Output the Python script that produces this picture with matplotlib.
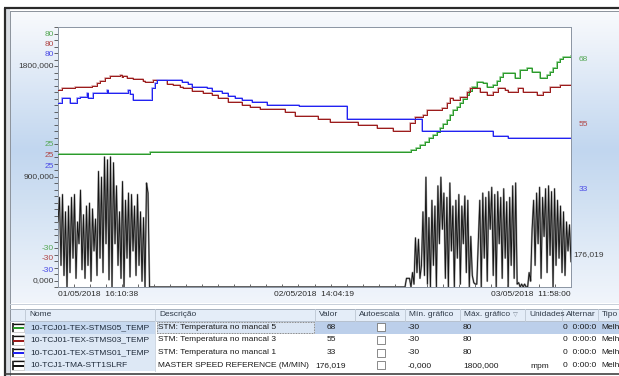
import numpy as np
import matplotlib
matplotlib.use("Agg")
import matplotlib.pyplot as plt
from matplotlib.patches import Rectangle
from matplotlib.colors import to_rgb
import matplotlib.transforms as mtransforms

plt.rcParams['font.family'] = ['Liberation Sans', 'DejaVu Sans']
plt.rcParams['font.size'] = 6

# ------------------------------------------------------------------ data
# time axis: hours since 01/05/2018 16:10:38 (end = 03/05/2018 11:58:00)
T_END = 43.789
time_labels = ["01/05/2018  16:10:38", "02/05/2018  14:04:19", "03/05/2018  11:58:00"]

# STMS05 (green) temperature
green_t = [0, 7.85, 30.13, 30.55, 30.90, 31.33, 31.70, 32.04, 32.33, 32.61, 32.90, 33.18, 33.46,
           33.74, 34.02, 34.31, 34.60, 34.89, 35.10, 35.31, 35.74, 36.30, 36.59, 37.16, 37.45,
           37.73, 38.01, 39.01, 39.44, 40.00, 40.43, 41.14, 41.71, 42.00, 42.28, 42.56, 42.85,
           43.13, 43.79]
green_v = [26.3, 27.1, 28.0, 28.9, 30.1, 31.5, 32.9, 34.3, 35.7, 37.1, 38.9, 40.7, 42.8,
           44.9, 46.3, 47.7, 49.4, 51.2, 53.0, 54.7, 56.6, 56.2, 54.7, 55.5, 57.2,
           59.0, 60.4, 58.6, 61.8, 62.5, 61.1, 58.6, 59.7, 61.0, 62.5, 65.3, 66.4,
           67.4, 67.6]

# STMS03 (red) temperature
red_t = [0, 0.32, 0.74, 1.45, 2.88, 3.30, 3.59, 4.01, 4.44, 5.29, 5.44, 5.57, 5.86, 6.43, 7.28,
         7.43, 8.13, 8.56, 9.28, 9.84, 10.41, 10.70, 11.41, 12.40, 13.12, 13.68, 14.54, 15.68,
         16.39, 17.24, 19.38, 20.23, 22.22, 23.22, 24.35, 25.63, 27.20, 28.62, 29.90, 30.05,
         30.47, 31.18, 31.47, 32.75, 33.18, 33.46, 33.74, 34.31, 34.89, 35.17, 35.45, 36.02,
         36.59, 37.16, 37.58, 38.16, 38.44, 39.29, 39.72, 40.86, 41.43, 42.00, 42.85, 43.79]
red_v = [53.3, 54.1, 54.3, 54.6, 55.2, 56.3, 57.3, 58.3, 59.4, 59.7, 58.7, 59.4, 58.3, 57.9, 57.3,
         56.6, 57.6, 57.5, 55.9, 55.5, 54.6, 54.2, 52.9, 52.0, 51.2, 50.1, 48.4, 47.1,
         46.3, 45.2, 43.9, 42.3, 41.1, 39.9, 39.7, 38.5, 37.1, 36.1, 36.0, 39.3,
         42.1, 42.8, 44.9, 45.6, 47.7, 49.8, 49.1, 50.5, 52.6, 54.3, 54.1, 52.6,
         51.2, 52.6, 54.1, 53.3, 52.6, 54.1, 52.6, 51.2, 52.6, 54.7, 55.5, 55.5]

# STMS01 (blue) temperature
blue_t = [0, 0.32, 1.02, 1.60, 1.88, 2.45, 2.59, 3.01, 4.16, 4.29, 6.00, 6.15, 6.43, 8.00, 8.28,
          8.43, 10.56, 11.12, 11.41, 12.69, 13.12, 13.97, 14.54, 15.11, 15.68, 16.54, 17.82,
          20.60, 24.64, 31.05, 37.16, 38.44, 43.79]
blue_v = [47.7, 50.1, 47.7, 50.1, 50.5, 52.0, 49.8, 52.0, 53.3, 52.0, 53.3, 51.5, 49.1, 54.1, 56.2,
          57.4, 56.6, 55.8, 54.5, 54.1, 53.1, 52.0, 50.9, 49.8, 49.1, 48.4, 47.0,
          46.7, 41.1, 36.0, 34.0, 32.9, 32.9]

# master speed reference (black), two production bursts, zero in between
speed_burst1_span = (0.0, 7.94)
speed_burst1 = [450, 620, 150, 640, 80, 520, 0, 560, 100, 620,
                200, 640, 60, 450, 300, 670, 120, 500, 60, 560,
                150, 580, 40, 540, 250, 470, 80, 800, 200, 760,
                100, 900, 300, 880, 50, 900, 0, 860, 300, 700,
                150, 520, 60, 730, 0, 600, 200, 650, 70, 640,
                250, 560, 80, 640, 150, 520, 40, 480, 0, 720,
                650, 0, 0]
speed_burst2_span = (29.62, 43.789)
speed_burst2 = [0, 60, 60, 60, 0, 100, 20, 340, 100, 330,
                60, 150, 520, 80, 760, 20, 480, 0, 600, 150,
                560, 0, 700, 300, 760, 400, 650, 60, 620, 0,
                720, 250, 560, 0, 600, 200, 640, 20, 560, 300,
                630, 100, 600, 0, 350, 80, 30, 20, 20, 300,
                600, 0, 650, 200, 620, 40, 660, 400, 690, 80,
                640, 0, 660, 300, 620, 60, 680, 200, 590, 0,
                620, 150, 700, 60, 720, 20, 30, 0, 20, 0,
                20, 0, 0, 100, 40, 400, 600, 150, 650, 300,
                690, 60, 620, 350, 680, 100, 700, 220, 660, 0,
                680, 150, 600, 200, 560, 100, 520, 80, 450, 250,
                430, 176]

# pen table
pen_names = ["10-TCJ01-TEX-STMS05_TEMP", "10-TCJ01-TEX-STMS03_TEMP",
             "10-TCJ01-TEX-STMS01_TEMP", "10-TCJ1-TMA-STT1SLRF"]
pen_descs = ["STM: Temperatura no mancal 5", "STM: Temperatura no mancal 3",
             "STM: Temperatura no mancal 1", "MASTER SPEED REFERENCE (M/MIN)"]
pen_values = ["68", "55", "33", "176,019"]
pen_min = [-30, -30, -30, 0.0]
pen_max = [80, 80, 80, 1800.0]
pen_units = ["", "", "", "mpm"]
pen_alternar = ["0  0:00:0"] * 4
pen_tipo = ["Melh"] * 4
headers = ["Nome", "Descrição", "Valor", "Autoescala", "Mín. gráfico", "Máx. gráfico",
           "Unidades", "Alternar", "Tipo"]

line_colors = ['#2c9a2c', '#9c1c1c', '#2222f2', '#151515']
halo_colors = ['#8fcf8f', '#d9a8a8', '#a0a0f8', '#a0a0a0']
label_colors = ['#55a855', '#b04646', '#4a4ae6', '#3a3a3a']

def fmt(v, speed):
    return f"{v:.3f}".replace('.', ',') if speed else f"{v:g}"

# ------------------------------------------------------------------ figure
W, H = 619, 376
fig = plt.figure(figsize=(W / 100, H / 100), dpi=100)
px = 0.72  # points per pixel

bg = fig.add_axes([0, 0, 1, 1])
# vertical gradient of the chart panel
stops_y = [11, 40, 100, 150, 200, 260, 303]
stops_c = ['#f8fafd', '#eef3fa', '#d5e3f4', '#c1d6ef', '#d0e0f2', '#e4edf8', '#f1f5fb']
ys = np.arange(11, 304)
grad = np.stack([np.interp(ys, stops_y, [to_rgb(c)[i] for c in stops_c]) for i in range(3)], axis=-1)
bg.imshow(grad[:, None, :], extent=(10, 619, 303, 11), origin='upper', aspect='auto',
          interpolation='bilinear')
bg.set_xlim(0, W)
bg.set_ylim(H, 0)
bg.axis('off')

# window frame
bg.add_patch(Rectangle((6, 9), 4, H - 9, fc='#d9dde3', ec='none'))
bg.plot([4, W], [8.3, 8.3], color='#2a2a2a', lw=2.2 * px, solid_capstyle='butt')
bg.plot([5.3, 5.3], [8, H], color='#2a2a2a', lw=2.2 * px, solid_capstyle='butt')
bg.plot([9.5, W], [10.5, 10.5], color='#8e959e', lw=1 * px)
bg.plot([9.5, 9.5], [10.5, H], color='#8e959e', lw=1 * px)

# table area
tab_top, hdr_h, row_h = 308.5, 12.5, 12.6
bg.add_patch(Rectangle((10, 303), W - 10, H - 303, fc='white', ec='none'))
bg.plot([10, W], [304, 304], color='#c9d0da', lw=1 * px)
bg.add_patch(Rectangle((10, tab_top), W - 10, hdr_h, fc='#e4edf8', ec='none'))
bg.plot([10, W], [tab_top, tab_top], color='#a9b3c0', lw=1 * px)
bg.plot([10, W], [tab_top + hdr_h, tab_top + hdr_h], color='#b6c1cf', lw=1 * px)
col_edges = [25, 155, 315, 355, 405, 460, 525, 562, 598]
for xe in col_edges:
    bg.plot([xe, xe], [tab_top, tab_top + hdr_h], color='#c2ccd8', lw=1 * px)
hdr_yc = tab_top + hdr_h / 2
for xe, h in zip(col_edges, headers):
    t = bg.text(xe + 4, hdr_yc, h, ha='left', va='center', fontsize=6, color='#2f3a48')
    if h == "Unidades":
        t.set_clip_path(Rectangle((xe, tab_top), 562 - xe - 1, hdr_h, transform=bg.transData))
bg.text(515, hdr_yc, "▽", ha='center', va='center', fontsize=4.5, color='#7a8594',
        family=['DejaVu Sans'])

row0 = tab_top + hdr_h
for i in range(4):
    y0 = row0 + i * row_h
    yc = y0 + row_h / 2
    if i == 0:
        bg.add_patch(Rectangle((25, y0), 130, row_h, fc='#c6d8ef', ec='none'))
        bg.add_patch(Rectangle((315, y0), W - 315, row_h, fc='#bccfea', ec='none'))
        bg.add_patch(Rectangle((156.5, y0 + 0.5), 157.5, row_h - 1, fc='#dbe6f4', ec='#555555',
                               lw=0.8 * px, ls=(0, (1, 1))))
    else:
        bg.add_patch(Rectangle((25, y0), 130, row_h, fc='#dde8f5', ec='none'))
    bg.plot([155, 155], [y0, y0 + row_h], color='#d0d8e2', lw=1 * px)
    # pen swatch
    bg.add_patch(Rectangle((11.5, y0 + 1.5), 12.5, row_h - 3, fc='white', ec='#b0b0b0', lw=0.6 * px))
    bg.plot([12.5, 12.5], [y0 + 1.8, y0 + row_h - 1.5], color='#111111', lw=1.6 * px,
            solid_capstyle='butt')
    bg.plot([12.5, 23.5], [y0 + 2.6, y0 + 2.6], color='#111111', lw=1.3 * px, solid_capstyle='butt')
    bg.plot([12.5, 23.5], [yc + 0.8, yc + 0.8], color=line_colors[i], lw=2 * px, solid_capstyle='butt')
    # cells
    speed = i == 3
    bg.text(30, yc, pen_names[i], ha='left', va='center', fontsize=6, color='#1e2a3a')
    td = bg.text(158, yc, pen_descs[i], ha='left', va='center', fontsize=6, color='#1a1a1a')
    td.set_clip_path(Rectangle((155, y0), 157, row_h, transform=bg.transData))
    bg.text(331, yc, pen_values[i], ha='center', va='center', fontsize=6, color='#1a1a1a')
    bg.add_patch(Rectangle((376.5, yc - 4), 8, 8, fc='white', ec='#707070', lw=0.8 * px))
    bg.text(408, yc, ("-" if speed else "") + fmt(pen_min[i], speed), ha='left', va='center',
            fontsize=6, color='#1a1a1a')
    bg.text(463, yc, fmt(pen_max[i], speed), ha='left', va='center', fontsize=6, color='#1a1a1a')
    bg.text(530, yc + 1.2, pen_units[i], ha='left', va='center', fontsize=6, color='#1a1a1a')
    bg.text(563, yc, pen_alternar[i], ha='left', va='center', fontsize=6, color='#1a1a1a')
    bg.text(601.5, yc, pen_tipo[i], ha='left', va='center', fontsize=6, color='#1a1a1a')
bg.plot([5, W], [373.8, 373.8], color='#3a3a3a', lw=1.6 * px)

# ------------------------------------------------------------------ trend plot
L, R, T, B = 58, 571, 27, 287
ax = fig.add_axes([L / W, (H - B) / H, (R - L) / W, (B - T) / H])
ax.set_facecolor('white')
ax.set_xlim(0, T_END)
ax.set_ylim(pen_min[0], pen_max[0])
ax2 = ax.twinx()
ax2.set_ylim(pen_min[3], pen_max[3])

for sp in ax.spines.values():
    sp.set_color('#8d97a5')
    sp.set_linewidth(1 * px)
for sp in ax2.spines.values():
    sp.set_visible(False)

ax.set_yticks(np.linspace(pen_min[0], pen_max[0], 41))
ax.set_xticks(np.linspace(0, T_END, 33))
ax.tick_params(axis='y', direction='out', length=3, width=0.8 * px, color='#444444',
               labelleft=False)
ax.tick_params(axis='x', direction='in', length=2.5, width=0.8 * px, color='#444444',
               labelbottom=False)
ax2.tick_params(axis='y', right=False, labelright=False)

temps = [(green_t, green_v), (red_t, red_v), (blue_t, blue_v)]
for (tt, vv), c, hc in zip(temps, line_colors, halo_colors):
    ax.plot(tt, vv, drawstyle='steps-post', color=hc, lw=1.8 * px, zorder=2)
    ax.plot(tt, vv, drawstyle='steps-post', color=c, lw=1.0 * px, zorder=3)

sp_t = np.concatenate([np.linspace(*speed_burst1_span, len(speed_burst1)),
                       np.linspace(*speed_burst2_span, len(speed_burst2))])
sp_v = np.array(speed_burst1 + speed_burst2, dtype=float)
ax2.plot(sp_t, sp_v, color=halo_colors[3], lw=1.9 * px, zorder=2)
ax2.plot(sp_t, sp_v, color=line_colors[3], lw=0.9 * px, zorder=3)

# stacked scale labels on the left (one set per pen)
top_dy = [-7, -17.5, -28, -39]
mid_dy = [12, 1.5, -9.5, -20]
bot_dy = [39, 28, 17, 6]
for i in range(4):
    a = ax2 if i == 3 else ax
    speed = i == 3
    lo, hi = pen_min[i], pen_max[i]
    for val, dy in [(hi, top_dy[i]), ((lo + hi) / 2, mid_dy[i]), (lo, bot_dy[i])]:
        tr = mtransforms.offset_copy(a.get_yaxis_transform(), fig=fig, x=-4, y=dy, units='dots')
        a.text(0, val, fmt(val, speed), transform=tr, ha='right', va='center', fontsize=6,
               color=label_colors[i], clip_on=False)

# current values on the right
right_pos = [0.875, 0.625, 0.375, 0.125]
right_dx = [8, 8, 8, 2]
for i in range(4):
    tr = mtransforms.offset_copy(ax.transAxes, fig=fig, x=right_dx[i], y=0, units='dots')
    ax.text(1, right_pos[i], pen_values[i], transform=tr, ha='left', va='center', fontsize=6,
            color=label_colors[i], clip_on=False)

# time labels
trx = mtransforms.offset_copy(ax.get_xaxis_transform(), fig=fig, x=0, y=-8, units='dots')
for xpos, lab, ha in zip([0, T_END / 2, T_END], time_labels, ['left', 'center', 'right']):
    ax.text(xpos, 0, lab, transform=trx, ha=ha, va='center', fontsize=6, color='#2a2a2a',
            clip_on=False)

fig.savefig("out.png", dpi=100)
